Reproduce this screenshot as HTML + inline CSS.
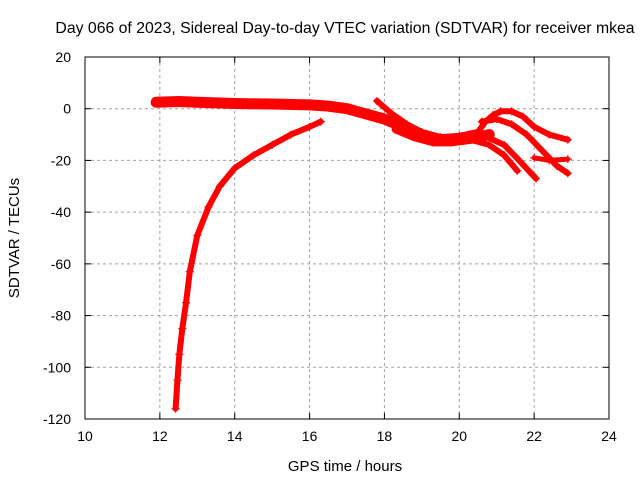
<!DOCTYPE html>
<html><head><meta charset="utf-8"><style>
body{margin:0;background:#fff;}
svg text{font-family:"Liberation Sans",sans-serif;font-size:14px;fill:#000;}
</style></head><body>
<svg width="640" height="480" viewBox="0 0 640 480">
<rect width="640" height="480" fill="#fff"/>
<text x="345" y="33" text-anchor="middle" style="font-size:15.8px">Day 066 of 2023, Sidereal Day-to-day VTEC variation (SDTVAR) for receiver mkea</text>
<g id="grid"></g>
<g id="ticks"></g>
<g id="marks"></g>
<rect x="85" y="57" width="524" height="362" fill="none" stroke="#000" stroke-width="1"/>
<text x="345" y="471" text-anchor="middle" style="font-size:15px">GPS time / hours</text>
<text transform="translate(19,238) rotate(-90)" text-anchor="middle" style="font-size:15px">SDTVAR / TECUs</text>
</svg>
<script>
const xTicks=[10,12,14,16,18,20,22,24];
const yTicks=[20,0,-20,-40,-60,-80,-100,-120];
const trackTop=[[11.9,2.5],[12.5,2.8],[13,2.5],[14,2],[15,1.8],[16,1.5],[16.5,1],[17,0],[17.5,-2],[18,-4],[18.5,-7],[19,-10],[19.5,-12],[20,-12],[20.5,-11],[20.8,-10]];
const trackB=[[17.8,3],[18.2,-2],[18.6,-6],[19,-9],[19.5,-11],[20,-10.5],[20.5,-9],[20.7,-5],[20.9,-2.5],[21.1,-1],[21.4,-1],[21.7,-3],[22,-7],[22.4,-10],[22.9,-12]];
const trackC=[[20.6,-5],[21,-4],[21.4,-6],[21.8,-10],[22.2,-16],[22.6,-22],[22.9,-25]];
const trackD=[[20.3,-12],[20.8,-14],[21.2,-18],[21.55,-24]];
const trackE=[[20.6,-10],[21.2,-14],[21.6,-20],[22.05,-27]];
const trackF=[[22,-19],[22.4,-20],[22.9,-19.5]];
const trackG=[[12.42,-116],[12.47,-105],[12.52,-95],[12.6,-85],[12.7,-75],[12.8,-63],[13,-49],[13.3,-38],[13.6,-30],[14,-23],[14.5,-18],[15,-14],[15.5,-10],[16,-7],[16.3,-5]];
const trackH=[[18.3,-8],[18.8,-11],[19.3,-13],[19.8,-13],[20.3,-12]];
const tracks=[trackTop,trackB,trackC,trackD,trackE,trackF,trackG,trackH];
const widths=[11,6,6,6,6,5,6,8];
const X=h=>85+(h-10)*(524/14);
const Y=v=>57+(20-v)*(362/140);
const NS="http://www.w3.org/2000/svg";
function mk(tag,attrs,parent){const e=document.createElementNS(NS,tag);for(const k in attrs)e.setAttribute(k,attrs[k]);parent.appendChild(e);return e;}
const grid=document.getElementById('grid'),ticks=document.getElementById('ticks'),marks=document.getElementById('marks');
xTicks.forEach(t=>{
 const x=X(t);
 if(t>10&&t<24){const g=mk('line',{x1:x,x2:x,y1:57,y2:419,stroke:'#a0a0a0','stroke-dasharray':'3,3'},grid);
 
 }
 mk('line',{x1:x,x2:x,y1:419,y2:413,stroke:'#000'},ticks);
 mk('line',{x1:x,x2:x,y1:57,y2:63,stroke:'#000'},ticks);
 const l=mk('text',{x:x,y:441,'text-anchor':'middle'},ticks);l.textContent=t;
 
 
});
yTicks.forEach(t=>{
 const y=Y(t);
 if(t<20&&t>-120){const g=mk('line',{x1:85,x2:609,y1:y,y2:y,stroke:'#a0a0a0','stroke-dasharray':'3,3'},grid);
 
 }
 mk('line',{x1:85,x2:91,y1:y,y2:y,stroke:'#000'},ticks);
 mk('line',{x1:609,x2:603,y1:y,y2:y,stroke:'#000'},ticks);
 const l=mk('text',{x:71,y:y+5,'text-anchor':'end'},ticks);l.textContent=t;
 
 
});
tracks.forEach((tr,i)=>{
 const pts=tr.map(p=>X(p[0])+','+Y(p[1])).join(' ');
 const pl=mk('polyline',{points:pts,fill:'none',stroke:'#ff0000','stroke-width':widths[i],'stroke-linejoin':'round','stroke-linecap':'round'},marks);
 
 
 tr.forEach(p=>{
  const x=X(p[0]),y=Y(p[1]);
  const m=mk('path',{d:`M${x-4},${y}H${x+4}M${x},${y-4}V${y+4}`,stroke:'#ff0000','stroke-width':1.2},marks);
  
  
 });
});
</script>
</body></html>
